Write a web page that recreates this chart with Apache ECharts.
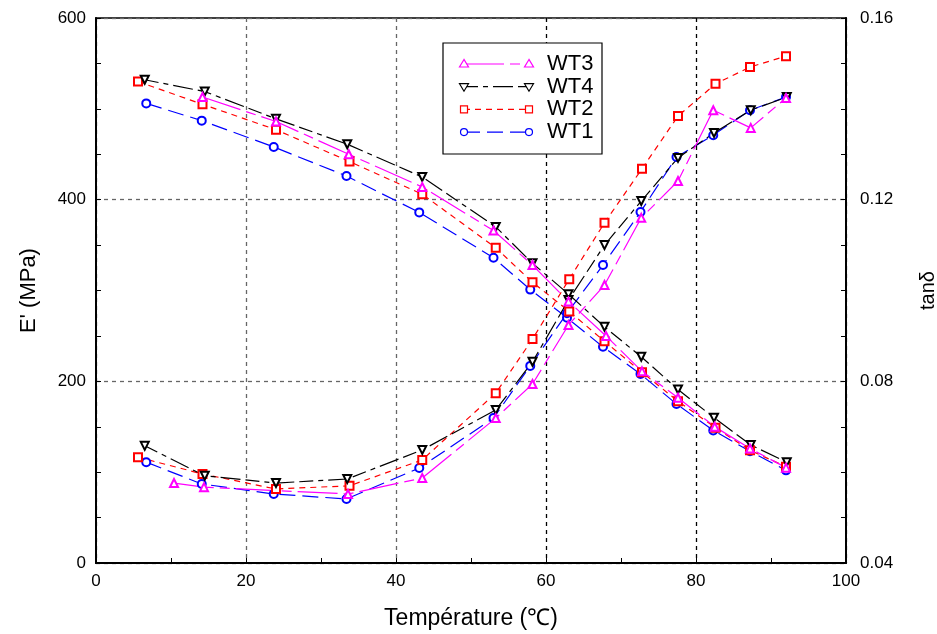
<!DOCTYPE html>
<html>
<head>
<meta charset="utf-8">
<script src="https://cdn.jsdelivr.net/npm/echarts@6/dist/echarts.min.js"></script>
<style>html,body{margin:0;padding:0;background:#fff}#c{width:937px;height:634px}</style>
</head>
<body>
<div id="c"></div>
<script>
// ---- data ----
const xTicks = [0, 20, 40, 60, 80, 100];
const leftTicks = [0, 200, 400, 600];
const rightTicks = [0.04, 0.08, 0.12, 0.16];

const WT1_T   = [6.7, 14.1, 23.7, 33.4, 43.1, 53.0, 57.9, 62.8, 67.6, 72.6, 77.4, 82.3, 87.2, 92.0];
const WT1_E   = [506, 487, 458, 426, 386, 336, 301, 270, 238, 208, 175, 146, 123, 102];
const WT1_tan = [0.0622, 0.0574, 0.0552, 0.0541, 0.0609, 0.0719, 0.0834, 0.0950, 0.1056, 0.1173, 0.1294, 0.1342, 0.1397, 0.1426];

const WT2_T   = [5.6, 14.2, 24.0, 33.8, 43.5, 53.3, 58.2, 63.1, 67.8, 72.8, 77.6, 82.6, 87.2, 92.0];
const WT2_E   = [530, 505, 477, 442, 406, 347, 309, 277, 244, 210, 178, 149, 124, 106];
const WT2_tan = [0.0633, 0.0596, 0.0563, 0.0570, 0.0627, 0.0774, 0.0893, 0.1025, 0.1149, 0.1268, 0.1384, 0.1455, 0.1492, 0.1516];

const WT4_T   = [6.5, 14.5, 24.0, 33.5, 43.5, 53.3, 58.2, 63.0, 67.8, 72.7, 77.6, 82.4, 87.3, 92.1];
const WT4_E   = [532, 519, 489, 461, 425, 370, 330, 296, 260, 227, 191, 160, 130, 111];
const WT4_tan = [0.0658, 0.0592, 0.0576, 0.0585, 0.0649, 0.0737, 0.0843, 0.0979, 0.1100, 0.1197, 0.1292, 0.1347, 0.1397, 0.1426];

const WT3_T_E   = [14.2, 24.0, 33.7, 43.5, 53.0, 58.2, 63.0, 68.0, 72.8, 77.6, 82.5, 87.2, 92.0];
const WT3_E     = [513, 486, 450, 414, 366, 328, 288, 250, 211, 182, 150, 126, 105];
const WT3_T_tan = [10.4, 14.4, 33.6, 43.5, 53.3, 58.2, 63.0, 67.8, 72.7, 77.6, 82.3, 87.3, 92.0];
const WT3_tan   = [0.0576, 0.0567, 0.0552, 0.0587, 0.0719, 0.0794, 0.0924, 0.1012, 0.1160, 0.1241, 0.1397, 0.1358, 0.1424];

const seriesNames = ['WT3', 'WT4', 'WT2', 'WT1'];

// ---- styles ----
const FONT = '"Liberation Sans", Arial, sans-serif';
const styles = {
  WT3: { color: '#ff00ff', symbol: 'emptyTriangle', rotate: 0, dash: [40, 6, 10, 6] },
  WT4: { color: '#000000', symbol: 'emptyTriangle', rotate: 180, dash: [14, 5, 5, 5, 20, 5] },
  WT2: { color: '#ff0000', symbol: 'emptyRect', rotate: 0, dash: [6, 5] },
  WT1: { color: '#0000ff', symbol: 'emptyCircle', rotate: 0, dash: [16, 7] }
};

const zip = (xs, ys) => xs.map((x, i) => [x, ys[i]]);

function mkSeries(name, xs, ys, yIdx) {
  const s = styles[name];
  return {
    name: name, type: 'line', yAxisIndex: yIdx,
    data: zip(xs, ys),
    symbol: s.symbol, symbolSize: 8, symbolRotate: s.rotate,
    lineStyle: { color: s.color, width: 1.2, type: s.dash },
    itemStyle: { color: s.color, borderColor: s.color, borderWidth: 1.2 },
    animation: false, silent: true
  };
}

const series = [
  mkSeries('WT1', WT1_T, WT1_E, 0), mkSeries('WT1', WT1_T, WT1_tan, 1),
  mkSeries('WT2', WT2_T, WT2_E, 0), mkSeries('WT2', WT2_T, WT2_tan, 1),
  mkSeries('WT4', WT4_T, WT4_E, 0), mkSeries('WT4', WT4_T, WT4_tan, 1),
  mkSeries('WT3', WT3_T_E, WT3_E, 0), mkSeries('WT3', WT3_T_tan, WT3_tan, 1)
];

// ---- custom legend (line with markers at both ends) ----
const legendBox = { x: 443, y: 43, w: 159, h: 111 };
const graphics = [{
  type: 'rect', shape: { x: legendBox.x, y: legendBox.y, width: legendBox.w, height: legendBox.h },
  style: { fill: '#fff', stroke: '#000', lineWidth: 1.2 }, z: 100
}];
seriesNames.forEach((n, i) => {
  const s = styles[n];
  const y = 64 + i * 22.7;
  const x1 = 464, x2 = 529;
  graphics.push({ type: 'line', shape: { x1: x1, y1: y, x2: x2, y2: y },
    style: { stroke: s.color, lineWidth: 1.2, lineDash: s.dash }, z: 101 });
  [x1, x2].forEach(x => {
    let g;
    if (n === 'WT3') g = { type: 'polygon', shape: { points: [[x, y - 4.5], [x - 4.5, y + 3], [x + 4.5, y + 3]] } };
    else if (n === 'WT4') g = { type: 'polygon', shape: { points: [[x, y + 4.5], [x - 4.5, y - 3], [x + 4.5, y - 3]] } };
    else if (n === 'WT2') g = { type: 'rect', shape: { x: x - 3.5, y: y - 3.5, width: 7, height: 7 } };
    else g = { type: 'circle', shape: { cx: x, cy: y, r: 3.5 } };
    g.style = { fill: '#fff', stroke: s.color, lineWidth: 1.2 };
    g.z = 102;
    graphics.push(g);
  });
  graphics.push({ type: 'text', x: 547, y: y, z: 102,
    style: { text: n, font: '22px ' + FONT, fill: '#000', verticalAlign: 'middle', textVerticalAlign: 'middle' } });
});

const chart = echarts.init(document.getElementById('c'), null, { renderer: 'canvas' });
chart.setOption({
  animation: false,
  backgroundColor: '#fff',
  grid: { left: 96, right: 91, top: 18, bottom: 71, containLabel: false, outerBoundsMode: 'none',
          show: true, borderColor: '#000', borderWidth: 1.5, backgroundColor: 'transparent' },
  xAxis: {
    type: 'value', min: xTicks[0], max: xTicks[xTicks.length - 1], interval: 20,
    name: 'Température (℃)', nameLocation: 'middle', nameGap: 44,
    nameTextStyle: { fontFamily: FONT, fontSize: 23, color: '#000' },
    axisLine: { show: true, onZero: false, lineStyle: { color: '#000', width: 2 } },
    axisTick: { show: true, inside: true, length: 5, lineStyle: { color: '#000', width: 1 } },
    minorTick: { show: true, splitNumber: 2, length: 5, lineStyle: { color: '#000', width: 1 } },
    axisLabel: { fontFamily: FONT, fontSize: 17, color: '#000', margin: 10 },
    splitLine: { show: true, lineStyle: { color: ['#666', '#666', '#666', '#000', '#000', '#666'], width: 1.3, type: [4, 4] } }
  },
  yAxis: [{
    type: 'value', min: leftTicks[0], max: leftTicks[leftTicks.length - 1], interval: 200,
    name: "E' (MPa)", nameLocation: 'middle', nameGap: 56, nameRotate: 90,
    nameTextStyle: { fontFamily: FONT, fontSize: 22, color: '#000' },
    axisLine: { show: true, onZero: false, lineStyle: { color: '#000', width: 2 } },
    axisTick: { show: true, inside: true, length: 5, lineStyle: { color: '#000', width: 1 } },
    minorTick: { show: true, splitNumber: 4, length: 5, lineStyle: { color: '#000', width: 1 } },
    axisLabel: { fontFamily: FONT, fontSize: 17, color: '#000', margin: 10 },
    splitLine: { show: true, lineStyle: { color: '#666', width: 1.3, type: [4, 4] } }
  }, {
    type: 'value', position: 'right', min: rightTicks[0], max: rightTicks[rightTicks.length - 1], interval: 0.04,
    name: 'tanδ', nameLocation: 'middle', nameGap: 72, nameRotate: 90,
    nameTextStyle: { fontFamily: FONT, fontSize: 20, color: '#000' },
    axisLine: { show: true, onZero: false, lineStyle: { color: '#000', width: 2 } },
    axisTick: { show: true, inside: true, length: 5, lineStyle: { color: '#000', width: 1 } },
    minorTick: { show: true, splitNumber: 4, length: 5, lineStyle: { color: '#000', width: 1 } },
    axisLabel: { fontFamily: FONT, fontSize: 17, color: '#000', margin: 14, formatter: v => v.toFixed(2) },
    splitLine: { show: false }
  }],
  series: series,
  graphic: graphics
});
</script>
</body>
</html>
